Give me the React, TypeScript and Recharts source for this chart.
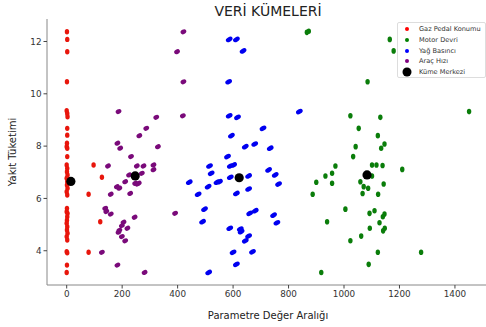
import { ScatterChart, Scatter, XAxis, YAxis } from "recharts";

// [parametre değeri, yakıt tüketimi]
const gazPedal: [number, number][] = [
  [1, 12.37], [2, 12.08], [2, 11.61], [1, 10.46], [0, 9.35], [2, 9.25], [3, 9.12],
  [2, 8.68], [2, 8.42], [1, 8.11], [0, 7.98], [2, 7.92], [2, 7.6], [0, 7.28],
  [2, 7.15], [1, 7.02], [3, 6.9], [0, 6.77], [2, 6.64], [1, 6.51], [3, 6.39],
  [0, 6.26], [2, 6.13], [1, 5.62], [0, 5.49], [3, 5.43], [2, 5.3], [1, 5.17],
  [0, 5.05], [2, 4.92], [1, 4.79], [3, 4.67], [0, 4.54], [2, 4.41], [0, 3.96],
  [2, 3.92], [1, 3.45], [0, 3.17], [97, 7.28], [79, 6.16], [127, 6.81],
  [121, 5.11], [79, 3.94],
];

const motorDevri: [number, number][] = [
  [866, 12.35], [873, 12.39], [1165, 12.08], [1179, 11.64], [1085, 10.46],
  [1451, 9.32], [1023, 9.16], [1131, 9.1], [1053, 8.68], [1122, 8.4],
  [1146, 8.08], [1134, 7.92], [1042, 7.98], [1033, 7.6], [969, 7.24],
  [1101, 7.28], [1117, 7.28], [1139, 7.26], [1210, 7.11], [933, 6.86],
  [957, 6.96], [1101, 6.86], [900, 6.62], [957, 6.58], [1059, 6.64],
  [1143, 6.55], [1071, 6.45], [1087, 6.39], [1067, 6.19], [1123, 6.16],
  [887, 6.16], [1005, 5.59], [1092, 5.43], [1110, 5.53], [1146, 5.4],
  [1140, 5.3], [939, 5.11], [1128, 5.07], [1093, 4.86], [1147, 4.86],
  [1141, 4.76], [1062, 4.56], [1023, 4.38], [1122, 3.94], [1278, 3.94],
  [1089, 3.48], [918, 3.17],
];

const yagBasinci: [number, number][] = [
  [586, 12.08], [612, 12.08], [636, 11.64], [584, 10.46], [586, 9.16],
  [616, 9.1], [839, 9.32], [708, 8.68], [594, 8.4], [678, 8.08], [644, 7.98],
  [734, 7.92], [580, 7.6], [515, 7.24], [590, 7.24], [602, 7.28], [521, 6.96],
  [590, 6.81], [656, 6.86], [728, 7.09], [752, 6.9], [442, 6.62], [542, 6.62],
  [551, 6.64], [510, 6.45], [764, 6.55], [656, 6.36], [474, 6.16], [612, 6.19],
  [497, 5.59], [660, 5.43], [680, 5.53], [746, 5.36], [490, 5.11], [758, 5.07],
  [588, 4.86], [626, 4.83], [629, 4.73], [656, 4.56], [644, 4.38], [600, 3.94],
  [670, 3.96], [612, 3.48], [512, 3.17],
];

const aracHizi: [number, number][] = [
  [187, 9.32], [183, 8.11], [193, 7.92], [323, 9.1], [287, 8.68], [262, 8.4],
  [329, 7.98], [232, 7.6], [149, 7.24], [253, 7.24], [277, 7.24], [313, 7.28],
  [313, 7.1], [225, 6.9], [240, 6.9], [271, 6.96], [211, 6.64], [247, 6.58],
  [255, 6.55], [260, 6.58], [181, 6.45], [190, 6.39], [159, 6.16], [229, 6.19],
  [139, 5.62], [143, 5.5], [159, 5.4], [245, 5.28], [205, 5.09], [199, 4.96],
  [219, 4.86], [190, 4.78], [187, 4.71], [199, 4.54], [211, 4.38], [127, 3.94],
  [183, 3.45], [281, 3.17], [421, 12.37], [398, 11.61], [421, 10.46],
  [419, 9.16], [391, 5.43],
];

const kumeMerkezi: [number, number][] = [
  [15, 6.65], [1083, 6.9], [622, 6.79], [247, 6.86],
];

const xTicks = [0, 200, 400, 600, 800, 1000, 1200, 1400];
const yTicks = [4, 6, 8, 10, 12];

const legendItems = [
  { name: "Gaz Pedal Konumu", color: "red", r: 2 },
  { name: "Motor Devri", color: "green", r: 2 },
  { name: "Yağ Basıncı", color: "blue", r: 2 },
  { name: "Araç Hızı", color: "purple", r: 2 },
  { name: "Küme Merkezi", color: "black", r: 4.5 },
];

const toPoints = (arr: [number, number][]) => arr.map(([x, y]) => ({ x, y }));

const FONT = "'DejaVu Sans', sans-serif";

const dot = (color: string, rx: number, ry: number, rot: number) => (props: any) => {
  const { cx, cy } = props;
  if (cx == null || cy == null) return <g />;
  return (
    <ellipse
      cx={cx}
      cy={cy}
      rx={rx}
      ry={ry}
      fill={color}
      transform={`rotate(${rot} ${cx} ${cy})`}
    />
  );
};

export default function App() {
  return (
    <div
      style={{
        position: "absolute",
        left: 0,
        top: 0,
        width: 486,
        height: 327,
        background: "#fff",
        fontFamily: FONT,
      }}
    >
      <div
        style={{
          position: "absolute",
          left: 168,
          width: 200,
          top: 3,
          textAlign: "center",
          fontSize: 14,
          color: "#222",
        }}
      >
        VERİ KÜMELERİ
      </div>
      <ScatterChart
        width={486}
        height={327}
        margin={{ top: 19, right: 0, bottom: 0, left: 0 }}
      >
        <XAxis
          type="number"
          dataKey="x"
          domain={[-71, 1512]}
          ticks={xTicks}
          height={42}
          tickSize={3.5}
          tickMargin={2}
          allowDataOverflow
          axisLine={{ stroke: "#888" }}
          tickLine={{ stroke: "#444" }}
          tick={{ fontSize: 8.8, fill: "#333", fontFamily: FONT }}
          label={{
            content: (p: any) => {
              const vb = p.viewBox || {};
              return (
                <text
                  x={268}
                  y={vb.y + 34}
                  textAnchor="middle"
                  fontSize={10}
                  fill="#222"
                  fontFamily={FONT}
                >
                  Parametre Değer Aralığı
                </text>
              );
            },
          }}
        />
        <XAxis
          xAxisId="top"
          orientation="top"
          type="number"
          domain={[-71, 1512]}
          height={0}
          tick={false}
          tickLine={false}
          axisLine={{ stroke: "#888" }}
        />
        <YAxis
          type="number"
          dataKey="y"
          domain={[2.69, 12.86]}
          ticks={yTicks}
          width={47}
          tickSize={3.5}
          tickMargin={2}
          allowDataOverflow
          axisLine={{ stroke: "#888" }}
          tickLine={{ stroke: "#444" }}
          tick={{ fontSize: 8.8, fill: "#333", fontFamily: FONT }}
          label={{
            content: (p: any) => {
              const vb = p.viewBox || {};
              const cy = vb.y + vb.height / 2;
              return (
                <text
                  x={16}
                  y={cy}
                  textAnchor="middle"
                  fontSize={10}
                  fill="#222"
                  fontFamily={FONT}
                  transform={`rotate(-90 16 ${cy})`}
                >
                  Yakıt Tüketimi
                </text>
              );
            },
          }}
        />
        <Scatter
          name="Gaz Pedal Konumu"
          data={toPoints(gazPedal)}
          fill="red"
          shape={dot("#e8160c", 2.2, 2.7, 0)}
          isAnimationActive={false}
        />
        <Scatter
          name="Motor Devri"
          data={toPoints(motorDevri)}
          fill="green"
          shape={dot("#0a7d0a", 2.2, 2.8, 0)}
          isAnimationActive={false}
        />
        <Scatter
          name="Yağ Basıncı"
          data={toPoints(yagBasinci)}
          fill="blue"
          shape={dot("#0000f0", 3.6, 2.3, -30)}
          isAnimationActive={false}
        />
        <Scatter
          name="Araç Hızı"
          data={toPoints(aracHizi)}
          fill="purple"
          shape={dot("#7a0a7a", 3, 2.3, -30)}
          isAnimationActive={false}
        />
        <Scatter
          name="Küme Merkezi"
          data={toPoints(kumeMerkezi)}
          fill="black"
          shape={dot("#000", 4.6, 4.6, 0)}
          isAnimationActive={false}
        />
      </ScatterChart>
      <div
        style={{
          position: "absolute",
          left: 397,
          top: 22,
          width: 89,
          height: 56,
          boxSizing: "border-box",
          border: "1px solid #ddd",
          borderRadius: 2,
          background: "rgba(255,255,255,0.85)",
          fontSize: 6.6,
          color: "#333",
          paddingTop: 1,
        }}
      >
        {legendItems.map((it) => (
          <div
            key={it.name}
            style={{ height: 10.7, display: "flex", alignItems: "center" }}
          >
            <svg width={21} height={10} style={{ flexShrink: 0 }}>
              <circle cx={9} cy={5} r={it.r} fill={it.color} />
            </svg>
            <span style={{ whiteSpace: "nowrap" }}>{it.name}</span>
          </div>
        ))}
      </div>
    </div>
  );
}
